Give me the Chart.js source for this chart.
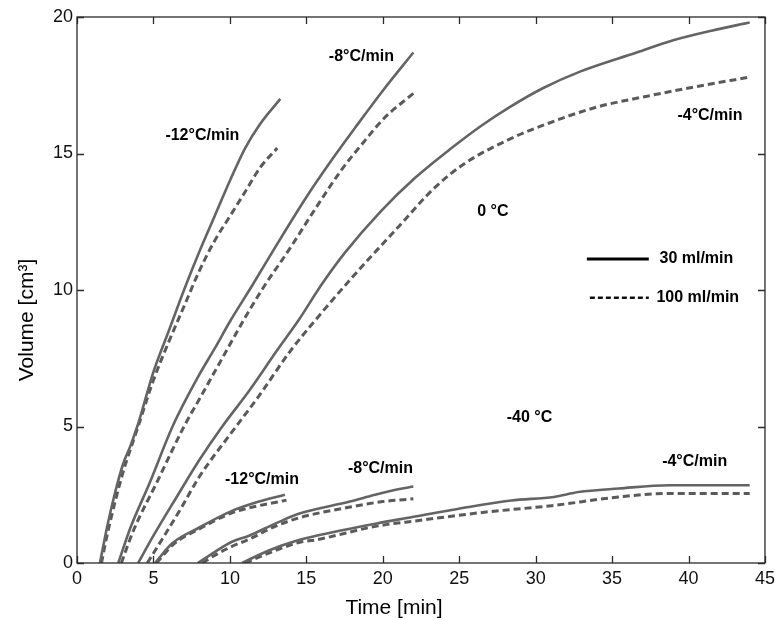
<!DOCTYPE html>
<html>
<head>
<meta charset="utf-8">
<script src="https://cdn.jsdelivr.net/npm/chart.js@4.4.1/dist/chart.umd.min.js"></script>
<style>
  html, body { margin: 0; padding: 0; background: #ffffff; }
  #wrap { width: 780px; height: 620px; position: relative; }
</style>
</head>
<body>
<div id="wrap"><canvas id="c" width="780" height="620"></canvas></div>
<script>
// ---------- Data ----------
// Axis ticks
const xTickValues = [0, 5, 10, 15, 20, 25, 30, 35, 40, 45];
const yTickValues = [0, 5, 10, 15, 20];

// 0 °C, -12 °C/min
const t_0C_m12_30  = [1.5, 2.0, 2.5, 3.0, 3.5, 4.0, 5.0, 6.0, 7.0, 8.0, 9.0, 10.0, 11.0, 12.0, 13.3];
const v_0C_m12_30  = [0, 1.4, 2.6, 3.6, 4.3, 5.1, 7.0, 8.5, 10.0, 11.4, 12.7, 14.0, 15.2, 16.1, 17.0];
const t_0C_m12_100 = [1.6, 2.0, 3.0, 4.0, 5.0, 6.0, 7.0, 8.0, 9.0, 10.0, 11.0, 12.0, 13.1];
const v_0C_m12_100 = [0, 1.1, 3.3, 5.0, 6.7, 8.1, 9.4, 10.7, 11.8, 12.7, 13.6, 14.5, 15.2];

// 0 °C, -8 °C/min
const t_0C_m8_30  = [2.7, 3.5, 4.75, 6.25, 8.0, 9.0, 10.06, 11.5, 13.0, 15.0, 16.9, 18.2, 20.0, 22.0];
const v_0C_m8_30  = [0, 1.3, 2.93, 5.0, 6.9, 7.85, 8.9, 10.2, 11.6, 13.4, 14.95, 15.95, 17.3, 18.7];
const t_0C_m8_100 = [2.9, 3.7, 5.2, 7.0, 8.0, 9.8, 10.9, 12.2, 13.85, 15.5, 17.3, 18.8, 20.1, 22.0];
const v_0C_m8_100 = [0, 1.2, 2.93, 5.0, 6.0, 7.8, 8.9, 10.1, 11.46, 12.9, 14.4, 15.45, 16.3, 17.2];

// 0 °C, -4 °C/min
const t_0C_m4_30  = [4.0, 5.0, 6.5, 8.0, 9.5, 11.25, 13.1, 14.5, 16.0, 17.5, 19.9, 22.1, 24.5, 26.4, 28.3, 30.5, 32.9, 36.6, 39.0, 41.5, 44.0];
const v_0C_m4_30  = [0, 1.0, 2.4, 3.77, 5.0, 6.3, 7.8, 8.9, 10.2, 11.35, 12.9, 14.1, 15.2, 16.0, 16.7, 17.4, 18.0, 18.7, 19.15, 19.5, 19.8];
const t_0C_m4_100 = [4.6, 5.6, 6.8, 8.0, 10.0, 11.8, 14.0, 15.6, 17.9, 21.0, 23.4, 25.4, 28.2, 30.8, 34.0, 37.3, 40.5, 44.0];
const v_0C_m4_100 = [0, 0.9, 2.0, 3.16, 4.7, 6.04, 7.8, 8.9, 10.4, 12.3, 13.75, 14.65, 15.5, 16.1, 16.7, 17.1, 17.45, 17.8];

// -40 °C, -12 °C/min
const t_40C_m12_30  = [5.1, 6.25, 8.0, 10.1, 11.9, 13.6];
const v_40C_m12_30  = [0, 0.73, 1.3, 1.9, 2.25, 2.5];
const t_40C_m12_100 = [5.2, 6.3, 8.0, 10.1, 11.9, 13.7];
const v_40C_m12_100 = [0, 0.68, 1.25, 1.83, 2.1, 2.3];

// -40 °C, -8 °C/min
const t_40C_m8_30  = [7.9, 9.0, 10.1, 11.25, 13.0, 14.5, 17.85, 19.5, 21.0, 22.0];
const v_40C_m8_30  = [0, 0.4, 0.77, 1.0, 1.45, 1.8, 2.25, 2.5, 2.7, 2.8];
const t_40C_m8_100 = [8.2, 9.0, 10.1, 11.25, 13.0, 14.5, 17.85, 20.0, 22.0];
const v_40C_m8_100 = [0, 0.28, 0.6, 0.87, 1.35, 1.65, 2.05, 2.25, 2.35];

// -40 °C, -4 °C/min
const t_40C_m4_30  = [10.8, 12.5, 14.5, 15.65, 19.6, 21.8, 24.9, 28.4, 31.2, 32.8, 35.45, 38.75, 44.0];
const v_40C_m4_30  = [0, 0.45, 0.84, 1.0, 1.45, 1.67, 1.98, 2.29, 2.42, 2.6, 2.73, 2.85, 2.85];
const t_40C_m4_100 = [11.0, 12.5, 14.5, 15.65, 19.6, 22.25, 26.65, 31.05, 35.45, 38.75, 44.0];
const v_40C_m4_100 = [0, 0.35, 0.75, 0.85, 1.35, 1.55, 1.86, 2.1, 2.42, 2.55, 2.55];

// Annotations (text and anchor in data units)
const annoText = ['-12°C/min', '-8°C/min', '-4°C/min', '0 °C', '-40 °C', '-12°C/min', '-8°C/min', '-4°C/min'];
const annoX    = [8.2, 18.6, 41.4, 27.2, 29.6, 12.1, 19.85, 40.4];
const annoY    = [15.65, 18.55, 16.38, 12.87, 5.32, 3.07, 3.45, 3.7];

// Legend labels
const legendLabels = ['30 ml/min', '100 ml/min'];

// ---------- Chart ----------
const FONT = "'Liberation Sans', Arial, sans-serif";
const SOLID_COLOR = '#646464';
const DASH_COLOR = '#5a5a5a';

function pts(xs, ys) { return xs.map((x, i) => ({ x: x, y: ys[i] })); }
function solid(label, xs, ys) {
  return { label: label, data: pts(xs, ys), borderColor: SOLID_COLOR, borderWidth: 2.6,
           pointRadius: 0, fill: false, cubicInterpolationMode: 'monotone' };
}
function dashed(label, xs, ys) {
  return { label: label, data: pts(xs, ys), borderColor: DASH_COLOR, borderWidth: 3,
           borderDash: [7, 4], pointRadius: 0, fill: false, cubicInterpolationMode: 'monotone' };
}

const decorPlugin = {
  id: 'decor',
  afterDatasetsDraw(chart) {
    const ctx = chart.ctx;
    const xs = chart.scales.x, ys = chart.scales.y;
    const a = chart.chartArea;
    ctx.save();
    // frame
    ctx.strokeStyle = '#2a2a2a';
    ctx.lineWidth = 1.3;
    ctx.setLineDash([]);
    ctx.strokeRect(a.left, a.top, a.right - a.left, a.bottom - a.top);
    // inward ticks on all four sides
    const TL = 7;
    ctx.beginPath();
    xTickValues.forEach(v => {
      const px = Math.round(xs.getPixelForValue(v)) + 0.5;
      ctx.moveTo(px, a.bottom); ctx.lineTo(px, a.bottom - TL);
      ctx.moveTo(px, a.top); ctx.lineTo(px, a.top + TL);
    });
    yTickValues.forEach(v => {
      const py = Math.round(ys.getPixelForValue(v)) + 0.5;
      ctx.moveTo(a.left, py); ctx.lineTo(a.left + TL, py);
      ctx.moveTo(a.right, py); ctx.lineTo(a.right - TL, py);
    });
    ctx.stroke();

    // annotations
    ctx.fillStyle = '#000';
    ctx.font = 'bold 16px ' + FONT;
    ctx.textAlign = 'center';
    ctx.textBaseline = 'middle';
    annoText.forEach((t, i) => {
      ctx.fillText(t, xs.getPixelForValue(annoX[i]), ys.getPixelForValue(annoY[i]));
    });

    // legend
    const lx0 = xs.getPixelForValue(33.35), lx1 = xs.getPixelForValue(37.4);
    const ly0 = ys.getPixelForValue(11.14), ly1 = ys.getPixelForValue(9.72);
    ctx.strokeStyle = '#000';
    ctx.lineWidth = 3;
    ctx.beginPath(); ctx.moveTo(lx0, ly0); ctx.lineTo(lx1, ly0); ctx.stroke();
    ctx.strokeStyle = '#111';
    ctx.lineWidth = 2.5;
    ctx.setLineDash([5, 3]);
    ctx.beginPath(); ctx.moveTo(lx0 + 3, ly1); ctx.lineTo(lx1, ly1); ctx.stroke();
    ctx.setLineDash([]);
    ctx.textAlign = 'left';
    ctx.fillText(legendLabels[0], xs.getPixelForValue(38.1), ly0);
    ctx.fillText(legendLabels[1], xs.getPixelForValue(37.9), ly1);

    // axis titles
    ctx.font = '21px ' + FONT;
    ctx.textAlign = 'center';
    ctx.textBaseline = 'middle';
    ctx.fillText('Time [min]', 394, 608);
    ctx.save();
    ctx.translate(27, 320);
    ctx.rotate(-Math.PI / 2);
    ctx.fillText('Volume [cm³]', 0, 0);
    ctx.restore();
    ctx.restore();
  }
};

new Chart(document.getElementById('c'), {
  type: 'line',
  data: {
    datasets: [
      solid('0 °C, -12°C/min, 30 ml/min', t_0C_m12_30, v_0C_m12_30),
      dashed('0 °C, -12°C/min, 100 ml/min', t_0C_m12_100, v_0C_m12_100),
      solid('0 °C, -8°C/min, 30 ml/min', t_0C_m8_30, v_0C_m8_30),
      dashed('0 °C, -8°C/min, 100 ml/min', t_0C_m8_100, v_0C_m8_100),
      solid('0 °C, -4°C/min, 30 ml/min', t_0C_m4_30, v_0C_m4_30),
      dashed('0 °C, -4°C/min, 100 ml/min', t_0C_m4_100, v_0C_m4_100),
      solid('-40 °C, -12°C/min, 30 ml/min', t_40C_m12_30, v_40C_m12_30),
      dashed('-40 °C, -12°C/min, 100 ml/min', t_40C_m12_100, v_40C_m12_100),
      solid('-40 °C, -8°C/min, 30 ml/min', t_40C_m8_30, v_40C_m8_30),
      dashed('-40 °C, -8°C/min, 100 ml/min', t_40C_m8_100, v_40C_m8_100),
      solid('-40 °C, -4°C/min, 30 ml/min', t_40C_m4_30, v_40C_m4_30),
      dashed('-40 °C, -4°C/min, 100 ml/min', t_40C_m4_100, v_40C_m4_100)
    ]
  },
  options: {
    responsive: false,
    animation: false,
    events: [],
    layout: { padding: { left: 0, top: 17, right: 11, bottom: 0 } },
    plugins: { legend: { display: false }, tooltip: { enabled: false }, title: { display: false } },
    scales: {
      x: {
        type: 'linear', min: 0, max: 45,
        afterBuildTicks: s => { s.ticks = xTickValues.map(v => ({ value: v })); },
        afterFit: s => { s.height = 57; },
        grid: { display: false, drawTicks: false },
        border: { display: false },
        ticks: { padding: 5, color: '#111', font: { family: FONT, size: 18 }, maxRotation: 0, autoSkip: false }
      },
      y: {
        type: 'linear', min: 0, max: 20,
        afterBuildTicks: s => { s.ticks = yTickValues.map(v => ({ value: v })); },
        afterFit: s => { s.width = 77; },
        grid: { display: false, drawTicks: false },
        border: { display: false },
        ticks: { padding: 4, color: '#111', font: { family: FONT, size: 18 }, autoSkip: false }
      }
    }
  },
  plugins: [decorPlugin]
});
</script>
</body>
</html>
